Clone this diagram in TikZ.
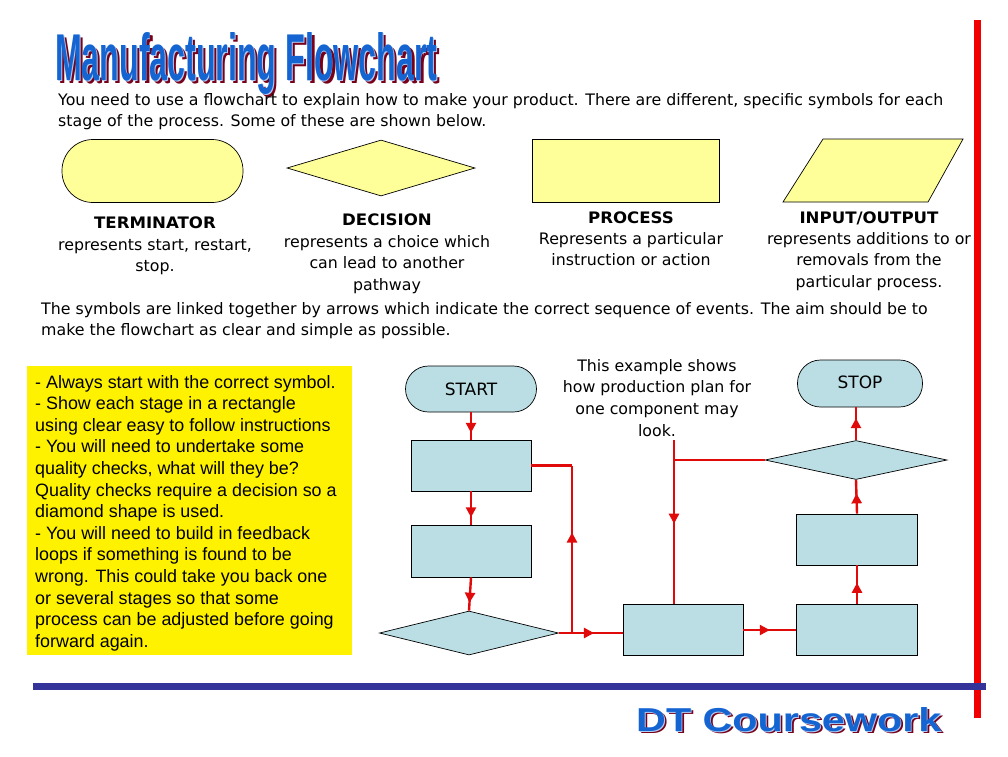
\documentclass[tikz,border=0pt]{standalone}
\usepackage{fontspec}
\setmainfont{DejaVu Sans}[BoldFeatures={FakeStretch=1.05}]
\newfontfamily\arialf{Liberation Sans}
\usetikzlibrary{shapes.geometric,arrows.meta,decorations.markings}
\definecolor{fcblue}{RGB}{186,222,228}
\definecolor{lightyel}{RGB}{255,255,153}
\definecolor{linkred}{RGB}{225,10,10}
\definecolor{barred}{RGB}{240,0,0}
\definecolor{barblue}{RGB}{51,51,153}
\definecolor{ttlblue}{RGB}{20,100,210}
\definecolor{ttledge}{RGB}{175,205,245}
\definecolor{ttlshadow}{RGB}{120,0,25}
\tikzset{
  txt/.style={inner sep=0pt, font=\fontsize{15.8}{18}\selectfont},
  btxt/.style={txt, font=\fontsize{15.8}{18}\selectfont\bfseries},
  atxt/.style={inner sep=0pt, anchor=base west, font=\arialf\fontsize{17.9}{20}\selectfont},
  legend/.style={draw=black, line width=0.7pt, fill=lightyel, inner sep=0pt},
  fc/.style={draw=black, line width=0.7pt, fill=fcblue, inner sep=0pt},
  fcbox/.style={fc, rectangle, minimum width=120pt, minimum height=51pt},
  fcterm/.style={fc, rectangle, rounded corners=23pt, minimum height=46pt, font=\fontsize{17}{20}\selectfont},
  fcdia/.style={fc, diamond},
  link/.style={draw=linkred, line width=2.4pt},
  midarrow/.style={postaction={decorate,decoration={markings,mark=at position #1 with {\arrow[linkred]{Triangle[length=10pt,width=10pt]}}}}},
  ttl/.style={inner sep=0pt, anchor=north west}
}
% word-art: dark shadow behind a blue face with a light rim
\newcommand{\layered}[2]{%
  \leavevmode
  \rlap{\hspace{#2}\raisebox{-#2}{\color{ttlshadow}#1}}%
  \rlap{\hspace{0.8pt}\raisebox{-0.8pt}{\color{ttledge}#1}}%
  {\color{ttlblue}#1}}
\begin{document}
\begin{tikzpicture}[x=1pt,y=-1pt]
\useasboundingbox (0,0) rectangle (1008,756);
\fill[white] (0,0) rectangle (1008,756);

% title
\node[ttl] (title) at (55,32) {\layered{\resizebox{382pt}{48pt}{\arialf\bfseries Manufacturing Flowchart}}{3pt}};

% intro
\node[txt, anchor=base west] (intro1) at (58,105) {You need to use a flowchart to explain how to make your product. There are different, specific symbols for each};
\node[txt, anchor=base west] (intro2) at (58,126) {stage of the process. Some of these are shown below.};

% legend shapes
\node[legend, rectangle, rounded corners=31pt, minimum width=181pt, minimum height=63pt] (lterm) at (152.5,171) {};
\node[legend, diamond, minimum width=188pt, minimum height=56pt] (ldec) at (381,168) {};
\node[legend, rectangle, minimum width=187pt, minimum height=63pt] (lproc) at (625.5,170.5) {};
\draw[legend] (823,139) -- (963,139) -- (928,202) -- (783,202) -- cycle;

% legend labels
\node[btxt, anchor=base] (tterm) at (155,228) {TERMINATOR};
\foreach \t [count=\i from 0] in {{represents start, restart,},{stop.}}
  \node[txt, anchor=base] (tterm\i) at (155,250+21.7*\i) {\t};
\node[btxt, anchor=base] (tdec) at (387,225) {DECISION};
\foreach \t [count=\i from 0] in {{represents a choice which},{can lead to another},{pathway}}
  \node[txt, anchor=base] (tdec\i) at (387,247+21.7*\i) {\t};
\node[btxt, anchor=base] (tproc) at (631,223) {PROCESS};
\foreach \t [count=\i from 0] in {{Represents a particular},{instruction or action}}
  \node[txt, anchor=base] (tproc\i) at (631,244+21.7*\i) {\t};
\node[btxt, anchor=base] (tio) at (869,223) {INPUT/OUTPUT};
\foreach \t [count=\i from 0] in {{represents additions to or},{removals from the},{particular process.}}
  \node[txt, anchor=base] (tio\i) at (869,244+21.7*\i) {\t};

\node[txt, anchor=base west] (link1) at (41,314) {The symbols are linked together by arrows which indicate the correct sequence of events. The aim should be to};
\node[txt, anchor=base west] (link2) at (41,335) {make the flowchart as clear and simple as possible.};

% yellow note
\node[fill=yellow, inner sep=0pt, anchor=north west, minimum width=325pt, minimum height=289pt] (note) at (27,366) {};
\foreach \t [count=\i from 0] in {{- Always start with the correct symbol.},{- Show each stage in a rectangle},{using clear easy to follow instructions},{- You will need to undertake some},{quality checks, what will they be?},{Quality checks require a decision so a},{diamond shape is used.},{- You will need to build in feedback},{loops if something is found to be},{wrong. This could take you back one},{or several stages so that some},{process can be adjusted before going},{forward again.}}
  \node[atxt] (note\i) at (35,388+21.6*\i) {\t};

% example text
\foreach \t [count=\i from 0] in {{This example shows},{how production plan for},{one component may},{look.}}
  \node[txt, anchor=base] (ex\i) at (657,371+21.7*\i) {\t};

% flowchart
\node[fcterm, minimum width=131pt] (start) at (471,389) {START};
\node[fcbox] (b1) at (471,465.5) {};
\node[fcbox, minimum height=52pt] (b2) at (471,551) {};
\node[fcdia, minimum width=179pt, minimum height=44pt] (d1) at (469,633) {};
\node[fcbox] (b3) at (683,630) {};
\node[fcbox, minimum width=121pt] (b4) at (857,630) {};
\node[fcbox, minimum width=121pt] (b5) at (857,539.5) {};
\node[fcdia, minimum width=182pt, minimum height=39pt] (d2) at (856,460) {};
\node[fcterm, minimum width=125pt, minimum height=47pt] (stop) at (860,383.5) {\raisebox{3pt}{STOP}};

\coordinate (lx) at (572,633);
\coordinate (fb) at (674,440);

\draw[link, midarrow=0.75] (start.south) -- (b1.north);
\draw[link, midarrow=0.78] (b1.south) -- (b2.north);
\draw[link, midarrow=0.76] (b2.south) -- (d1.north);
\draw[link, midarrow=0.55] (d1.east) -- (d1.east -| b3.west);
\draw[link, midarrow=0.6] (d1.east -| lx) -- (b1.east -| lx);
\draw[link] (b1.east -| lx) -- (b1.east);
\draw[link, midarrow=0.51] (fb) -- (fb |- b3.north);
\draw[link] (d2.west) -- (d2.west -| fb);
\draw[link, midarrow=0.5] (b3.east) -- (b4.west);
\draw[link, midarrow=0.55] (b4.north) -- (b5.south);
\draw[link, midarrow=0.6] (b5.north) -- (d2.south);
\draw[link, midarrow=0.67] (d2.north) -- (d2.north |- stop.south);

% frame bars
\draw[barred, line width=7pt] (977.5,20) -- (977.5,718);
\draw[barblue, line width=7pt] (33,686.5) -- (986,686.5);

% DT Coursework
\node[ttl] (dt) at (636,707) {\layered{\resizebox{305pt}{24pt}{\arialf\bfseries DT Coursework}}{2.5pt}};
\end{tikzpicture}
\end{document}
